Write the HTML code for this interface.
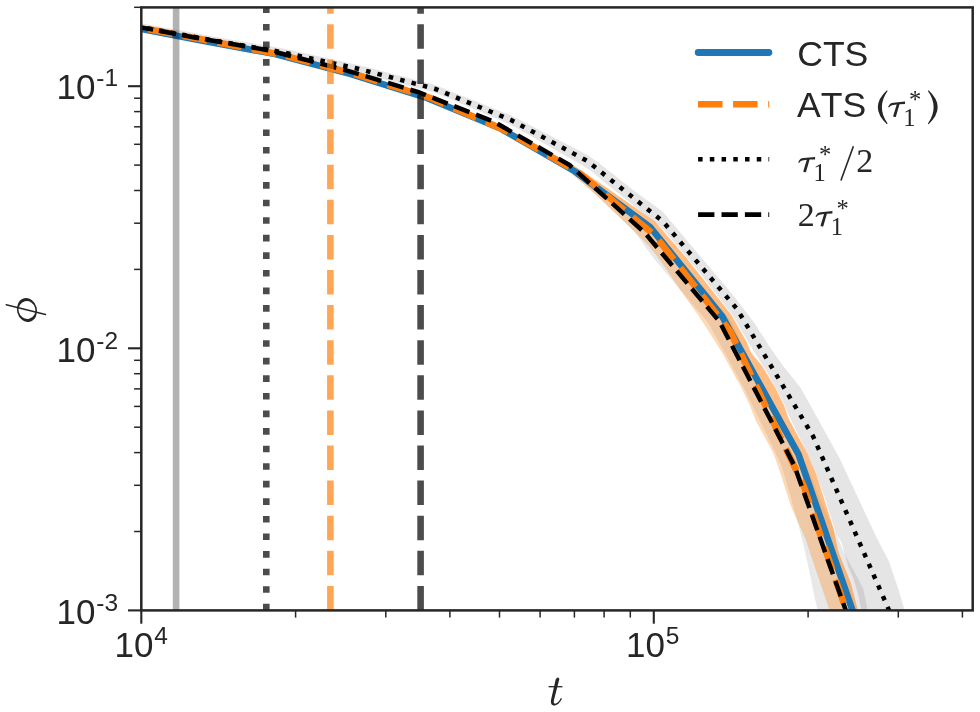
<!DOCTYPE html>
<html><head><meta charset="utf-8"><title>phi vs t</title>
<style>
html,body{margin:0;padding:0;background:#fff;}
body{width:980px;height:712px;overflow:hidden;font-family:"Liberation Sans",sans-serif;}
svg{display:block;will-change:transform;}
</style></head><body>
<svg width="980" height="712" viewBox="0 0 980 712">
<rect width="980" height="712" fill="#fff"/>
<defs><clipPath id="ax"><rect x="141.3" y="7.4" width="831.4" height="603.0"/></clipPath></defs>
<g clip-path="url(#ax)" fill="none">
<polygon points="545.8,150.0 556.8,156.0 567.8,162.0 576.9,168.0 584.1,174.0 591.3,180.0 598.5,186.0 605.6,192.0 612.8,198.0 619.9,204.0 627.0,210.0 634.1,216.0 641.2,222.0 648.4,228.0 655.3,234.0 661.1,240.0 667.0,246.0 672.8,252.0 678.6,258.0 683.6,264.0 688.6,270.0 693.6,276.0 698.6,282.0 703.7,288.0 708.7,294.0 713.7,300.0 718.7,306.0 723.7,312.0 728.6,318.0 732.6,324.0 735.4,330.0 738.2,336.0 741.0,342.0 743.8,348.0 746.8,354.0 749.8,360.0 752.8,366.0 755.9,372.0 758.9,378.0 762.0,384.0 765.1,390.0 768.4,396.0 771.6,402.0 774.9,408.0 778.1,414.0 781.4,420.0 784.7,426.0 787.9,432.0 791.2,438.0 794.4,444.0 797.7,450.0 801.1,456.0 804.5,462.0 807.6,468.0 810.0,474.0 812.5,480.0 814.9,486.0 817.3,492.0 819.8,498.0 822.4,504.0 825.2,510.0 827.9,516.0 830.7,522.0 833.4,528.0 836.2,534.0 838.7,540.0 841.2,546.0 843.8,552.0 847.0,558.0 850.2,564.0 853.4,570.0 856.6,576.0 859.8,582.0 863.0,588.0 864.4,594.0 865.6,600.0 866.7,606.0 867.9,612.0 869.5,619.4 820.0,619.4 818.2,612.0 816.7,606.0 815.2,600.0 814.0,594.0 812.7,588.0 811.5,582.0 810.2,576.0 809.0,570.0 807.7,564.0 806.4,558.0 805.1,552.0 803.8,546.0 802.2,540.0 800.7,534.0 799.1,528.0 797.5,522.0 795.9,516.0 794.2,510.0 792.6,504.0 791.0,498.0 789.2,492.0 787.4,486.0 785.7,480.0 783.9,474.0 782.1,468.0 779.7,462.0 776.9,456.0 774.2,450.0 771.3,444.0 768.3,438.0 765.4,432.0 762.5,426.0 759.6,420.0 756.6,414.0 753.7,408.0 750.8,402.0 747.9,396.0 744.9,390.0 741.8,384.0 738.6,378.0 735.3,372.0 732.0,366.0 728.7,360.0 725.4,354.0 722.1,348.0 718.8,342.0 715.5,336.0 712.1,330.0 708.8,324.0 704.3,318.0 699.1,312.0 694.0,306.0 688.9,300.0 683.9,294.0 678.8,288.0 673.7,282.0 668.6,276.0 663.5,270.0 658.5,264.0 653.4,258.0 649.0,252.0 644.7,246.0 640.5,240.0 636.2,234.0 630.6,228.0 624.4,222.0 618.2,216.0 612.0,210.0 605.8,204.0 599.6,198.0 593.4,192.0 587.2,186.0 581.0,180.0 574.9,174.0 568.8,168.0 560.7,162.0 550.8,156.0 540.8,150.0" fill="#000" fill-opacity="0.09"/>
<polygon points="141.0,23.2 149.0,24.7 157.0,26.2 165.0,27.7 173.0,29.1 181.0,30.6 189.0,32.1 197.0,33.6 205.0,35.0 213.0,36.4 221.0,37.8 229.0,39.2 237.0,40.5 245.0,41.9 253.0,43.3 261.0,44.6 269.0,46.0 277.0,47.4 285.0,48.8 293.0,50.6 301.0,52.4 309.0,54.1 317.0,55.9 325.0,57.6 333.0,59.4 341.0,61.1 349.0,62.9 357.0,64.7 365.0,66.7 373.0,68.7 381.0,70.8 389.0,72.9 397.0,75.0 405.0,77.1 413.0,79.2 421.0,81.3 429.0,83.3 437.0,85.7 445.0,89.0 453.0,92.3 461.0,95.4 469.0,98.6 477.0,101.8 485.0,105.0 493.0,108.2 501.0,111.4 509.0,114.5 517.0,118.4 525.0,122.6 533.0,126.7 541.0,130.9 549.0,135.0 557.0,139.2 565.0,143.3 573.0,147.5 581.0,151.6 589.0,156.1 597.0,161.8 605.0,167.7 613.0,174.1 621.0,180.5 629.0,186.8 637.0,192.9 645.0,198.7 653.0,204.6 663.0,212.0 700.0,256.0 724.8,285.3 737.0,300.3 755.3,324.3 770.1,347.4 783.2,366.1 800.1,387.1 813.0,410.0 839.5,458.0 861.4,505.0 876.6,537.5 889.0,561.5 898.0,588.0 904.2,608.5 907.0,619.4 863.0,619.4 861.0,609.0 858.5,596.0 854.0,580.0 848.0,566.0 841.4,542.0 836.0,533.7 825.5,500.0 816.4,475.0 809.0,457.6 789.2,416.0 783.2,401.9 769.5,376.6 749.0,343.2 732.1,314.8 700.0,273.0 663.0,229.0 653.0,221.0 645.0,214.6 637.0,208.2 629.0,201.8 621.0,195.5 613.0,189.1 605.0,182.7 597.0,176.1 589.0,169.5 581.0,164.5 573.0,159.9 565.0,155.4 557.0,150.9 549.0,146.3 541.0,141.8 533.0,137.3 525.0,132.8 517.0,128.3 509.0,124.0 501.0,120.5 493.0,117.1 485.0,113.7 477.0,110.3 469.0,106.9 461.0,103.5 453.0,100.1 445.0,96.8 437.0,93.5 429.0,91.1 421.0,89.1 413.0,87.0 405.0,84.9 397.0,82.8 389.0,80.7 381.0,78.6 373.0,76.5 365.0,74.5 357.0,72.5 349.0,70.7 341.0,68.9 333.0,67.2 325.0,65.4 317.0,63.7 309.0,61.9 301.0,60.2 293.0,58.4 285.0,56.6 277.0,55.2 269.0,53.8 261.0,52.4 253.0,51.1 245.0,49.7 237.0,48.3 229.0,47.0 221.0,45.6 213.0,44.2 205.0,42.8 197.0,41.4 189.0,39.9 181.0,38.4 173.0,36.9 165.0,35.5 157.0,34.0 149.0,32.5 141.0,31.0" fill="#000" fill-opacity="0.10"/>
<polygon points="500.0,124.8 542.3,147.6 577.6,167.9 603.8,185.7 654.9,221.4 685.7,257.0 731.4,315.0 745.8,340.6 751.1,352.7 762.1,366.1 774.8,387.1 784.0,405.3 788.5,418.5 807.4,453.7 816.4,475.0 824.8,501.3 833.2,527.7 838.4,552.0 850.8,582.9 857.5,609.0 860.0,619.4 832.6,619.4 829.2,609.2 813.5,563.0 805.9,540.0 801.6,530.0 791.0,506.6 781.0,475.0 773.7,453.7 755.5,420.0 749.8,405.3 741.0,387.0 722.7,353.8 714.6,340.6 698.1,315.0 680.2,290.0 670.2,275.0 657.8,257.0 648.3,245.4 631.9,229.1 614.6,212.5 597.5,196.6 566.5,169.5 537.9,153.5 500.0,132.6" fill="#ff7f0e" fill-opacity="0.30"/>
<polygon points="500.0,124.8 542.3,147.6 577.6,167.9 603.8,185.7 654.9,221.4 685.7,257.0 731.4,315.0 745.8,340.6 751.1,352.7 762.1,366.1 774.8,387.1 784.0,405.3 788.5,418.5 807.4,453.7 816.4,475.0 824.8,501.3 833.2,527.7 838.4,552.0 850.8,582.9 857.5,609.0 860.0,619.4 855.6,619.4 852.5,610.4 798.5,454.3 722.2,316.4 650.5,227.5 575.0,171.5 500.0,128.1" fill="#ff7f0e" fill-opacity="0.30"/>
<polyline points="141.3,29.0 200.0,40.3 275.0,54.0 350.0,73.9 425.0,97.3 500.0,128.1 575.0,171.5 650.5,227.5 722.2,316.4 798.5,454.3 852.5,610.4 855.6,619.4" stroke="#1f77b4" stroke-width="6.6" stroke-linejoin="round"/>
<polyline points="141.3,27.8 205.0,40.0 280.0,54.4 355.0,74.2 430.0,97.8 505.0,130.4 580.0,173.5 655.0,235.5 730.0,331.0 803.8,486.3 846.2,610.4 849.3,619.4" stroke="#ff7f0e" stroke-width="6.6" stroke-dasharray="24.5 10.6" stroke-dashoffset="27.71" stroke-linejoin="round"/>
<polyline points="141.3,27.2 207.0,39.3 283.0,52.3 359.0,69.0 435.0,88.8 511.0,120.0 587.0,160.8 663.0,221.5 737.0,309.0 813.0,436.1 889.0,610.2 893.0,619.4" stroke="#000" stroke-width="4.5" stroke-dasharray="4.5 7.23" stroke-dashoffset="5.53" stroke-linejoin="round"/>
<polyline points="141.3,27.4 194.5,37.5 269.5,50.5 344.5,69.8 419.5,92.5 494.5,122.0 569.5,165.0 644.5,232.5 719.5,321.6 794.5,466.0 845.8,610.4 849.0,619.4" stroke="#000" stroke-width="4.5" stroke-dasharray="16.3 7.1" stroke-dashoffset="4.23" stroke-linejoin="round"/>
<line x1="176.1" x2="176.1" y1="610.4" y2="7.4" stroke="#000" stroke-opacity="0.3" stroke-width="6.6"/>
<line x1="266.3" x2="266.3" y1="610.4" y2="7.4" stroke="#000" stroke-opacity="0.7" stroke-width="6.6" stroke-dasharray="6.63 10.94"/>
<line x1="330.4" x2="330.4" y1="610.4" y2="7.4" stroke="#ff7f0e" stroke-opacity="0.7" stroke-width="6.6" stroke-dasharray="24.5 10.6"/>
<line x1="420.6" x2="420.6" y1="610.4" y2="7.4" stroke="#000" stroke-opacity="0.7" stroke-width="6.6" stroke-dasharray="24.5 10.6"/>
</g>
<g stroke="#262626" fill="none">
<line x1="141.3" x2="141.3" y1="610.4" y2="623.7" stroke-width="2.1"/>
<line x1="653.8" x2="653.8" y1="610.4" y2="623.7" stroke-width="2.1"/>
<line x1="295.6" x2="295.6" y1="610.4" y2="617.6" stroke-width="1.5"/>
<line x1="385.8" x2="385.8" y1="610.4" y2="617.6" stroke-width="1.5"/>
<line x1="449.9" x2="449.9" y1="610.4" y2="617.6" stroke-width="1.5"/>
<line x1="499.5" x2="499.5" y1="610.4" y2="617.6" stroke-width="1.5"/>
<line x1="540.1" x2="540.1" y1="610.4" y2="617.6" stroke-width="1.5"/>
<line x1="574.4" x2="574.4" y1="610.4" y2="617.6" stroke-width="1.5"/>
<line x1="604.1" x2="604.1" y1="610.4" y2="617.6" stroke-width="1.5"/>
<line x1="630.3" x2="630.3" y1="610.4" y2="617.6" stroke-width="1.5"/>
<line x1="808.1" x2="808.1" y1="610.4" y2="617.6" stroke-width="1.5"/>
<line x1="898.3" x2="898.3" y1="610.4" y2="617.6" stroke-width="1.5"/>
<line x1="962.4" x2="962.4" y1="610.4" y2="617.6" stroke-width="1.5"/>
<line x1="141.3" x2="128.0" y1="86.2" y2="86.2" stroke-width="2.1"/>
<line x1="141.3" x2="128.0" y1="348.3" y2="348.3" stroke-width="2.1"/>
<line x1="141.3" x2="128.0" y1="610.4" y2="610.4" stroke-width="2.1"/>
<line x1="141.3" x2="134.1" y1="7.3" y2="7.3" stroke-width="1.5"/>
<line x1="141.3" x2="134.1" y1="269.4" y2="269.4" stroke-width="1.5"/>
<line x1="141.3" x2="134.1" y1="223.2" y2="223.2" stroke-width="1.5"/>
<line x1="141.3" x2="134.1" y1="190.5" y2="190.5" stroke-width="1.5"/>
<line x1="141.3" x2="134.1" y1="165.1" y2="165.1" stroke-width="1.5"/>
<line x1="141.3" x2="134.1" y1="144.3" y2="144.3" stroke-width="1.5"/>
<line x1="141.3" x2="134.1" y1="126.8" y2="126.8" stroke-width="1.5"/>
<line x1="141.3" x2="134.1" y1="111.6" y2="111.6" stroke-width="1.5"/>
<line x1="141.3" x2="134.1" y1="98.2" y2="98.2" stroke-width="1.5"/>
<line x1="141.3" x2="134.1" y1="531.5" y2="531.5" stroke-width="1.5"/>
<line x1="141.3" x2="134.1" y1="485.3" y2="485.3" stroke-width="1.5"/>
<line x1="141.3" x2="134.1" y1="452.6" y2="452.6" stroke-width="1.5"/>
<line x1="141.3" x2="134.1" y1="427.2" y2="427.2" stroke-width="1.5"/>
<line x1="141.3" x2="134.1" y1="406.4" y2="406.4" stroke-width="1.5"/>
<line x1="141.3" x2="134.1" y1="388.9" y2="388.9" stroke-width="1.5"/>
<line x1="141.3" x2="134.1" y1="373.7" y2="373.7" stroke-width="1.5"/>
<line x1="141.3" x2="134.1" y1="360.3" y2="360.3" stroke-width="1.5"/>
<rect x="141.3" y="7.4" width="831.4" height="603.0" stroke-width="2.5"/>
</g>
<g fill="#262626" font-family="'Liberation Sans', sans-serif" font-size="35">
<text x="56.6" y="99.2">10<tspan font-size="24.5" dx="0.7" dy="-12.9">-1</tspan></text>
<text x="56.6" y="361.6">10<tspan font-size="24.5" dx="0.7" dy="-12.9">-2</tspan></text>
<text x="56.6" y="624.0">10<tspan font-size="24.5" dx="0.7" dy="-12.9">-3</tspan></text>
<text x="114.6" y="656.8">10<tspan font-size="24.5" dx="0.7" dy="-12.9">4</tspan></text>
<text x="626.0" y="656.8">10<tspan font-size="24.5" dx="0.7" dy="-12.9">5</tspan></text>
</g>
<path fill="#262626" d="M558,677.2 L555.8,679 L551.1,699.5 C550.3,703.5 551.8,705.6 554.5,705.5 C557.5,705.4 560.2,702.5 562,698.6 L560.9,698.1 C559.3,701.2 557.3,703.6 555.3,703.7 C553.8,703.7 553.4,702.5 554,700 L559.4,678.8 Z"/>
<line x1="548.6" x2="562.4" y1="686.7" y2="686.7" stroke="#262626" stroke-width="1.3"/>
<line x1="6.2" y1="304.7" x2="45.5" y2="314.5" stroke="#262626" stroke-width="1.4" stroke-linecap="round"/>
<g transform="rotate(-14 27 310)"><path fill="#262626" fill-rule="evenodd" d="M17.04,310 a9.96,12.1 0 1,0 19.92,0 a9.96,12.1 0 1,0 -19.92,0 Z M18.6,310 a8.4,9.0 0 1,0 16.8,0 a8.4,9.0 0 1,0 -16.8,0 Z"/></g>
<g fill="none">
<line x1="698.2" x2="768.9" y1="52.5" y2="52.5" stroke="#1f77b4" stroke-width="6.8" stroke-linecap="round"/>
<line x1="698" x2="769.2" y1="104.3" y2="104.3" stroke="#ff7f0e" stroke-width="6.6" stroke-dasharray="24.5 10.6"/>
<line x1="698.1" x2="769.2" y1="159.3" y2="159.3" stroke="#000" stroke-width="4.6" stroke-dasharray="4.5 7.23"/>
<line x1="698.1" x2="769.2" y1="214.6" y2="214.6" stroke="#000" stroke-width="4.6" stroke-dasharray="16.3 7.1"/>
</g>
<g fill="#262626" font-family="'Liberation Sans', sans-serif" font-size="35.6" style="font-kerning:none">
<text x="797.2" y="65.6">CTS</text>
<text x="797.0" y="116.6">ATS</text>
</g>
<g transform="translate(888.1 116.5)">
<path fill="#262626" d="M0,-9.6 C1.2,-12.4 2.8,-13.6 5.5,-13.8 L16.9,-14.9 L16.9,-12.4 L11.4,-12.2 L7.8,0.2 C7,0.6 5.6,0.4 5,-0.3 L8.6,-12 L5.4,-11.6 C3.4,-11.4 2,-10.6 0.9,-8.9 Z"/>
<text x="15.2" y="9.1" font-family="'Liberation Serif', serif" font-size="24.5" fill="#262626">1</text>
<text x="20.9" y="-8.6" font-family="'Liberation Serif', serif" font-size="24.5" fill="#262626">*</text>
</g>
<g transform="translate(798.2 171.8)">
<path fill="#262626" d="M0,-9.6 C1.2,-12.4 2.8,-13.6 5.5,-13.8 L16.9,-14.9 L16.9,-12.4 L11.4,-12.2 L7.8,0.2 C7,0.6 5.6,0.4 5,-0.3 L8.6,-12 L5.4,-11.6 C3.4,-11.4 2,-10.6 0.9,-8.9 Z"/>
<text x="15.2" y="9.1" font-family="'Liberation Serif', serif" font-size="24.5" fill="#262626">1</text>
<text x="20.9" y="-8.6" font-family="'Liberation Serif', serif" font-size="24.5" fill="#262626">*</text>
</g>
<g transform="translate(815.5 226)">
<path fill="#262626" d="M0,-9.6 C1.2,-12.4 2.8,-13.6 5.5,-13.8 L16.9,-14.9 L16.9,-12.4 L11.4,-12.2 L7.8,0.2 C7,0.6 5.6,0.4 5,-0.3 L8.6,-12 L5.4,-11.6 C3.4,-11.4 2,-10.6 0.9,-8.9 Z"/>
<text x="15.2" y="9.1" font-family="'Liberation Serif', serif" font-size="24.5" fill="#262626">1</text>
<text x="20.9" y="-8.6" font-family="'Liberation Serif', serif" font-size="24.5" fill="#262626">*</text>
</g>
<path fill="#262626" d="M886.9,90.3 Q868.7,107.25 886.9,124.2 L887.6,123.5 Q876.1,107.25 887.6,91 Z"/>
<path fill="#262626" d="M928.6,90.3 Q946.8,107.25 928.6,124.2 L927.9,123.5 Q939.4,107.25 927.9,91 Z"/>
<g fill="#262626" font-family="'Liberation Serif', serif" font-size="34">
<text x="856.3" y="171.8">2</text>
<text x="797.7" y="226">2</text>
</g>
<line x1="840.9" y1="180.4" x2="853.4" y2="146.2" stroke="#262626" stroke-width="1.6"/>
</svg>
</body></html>
